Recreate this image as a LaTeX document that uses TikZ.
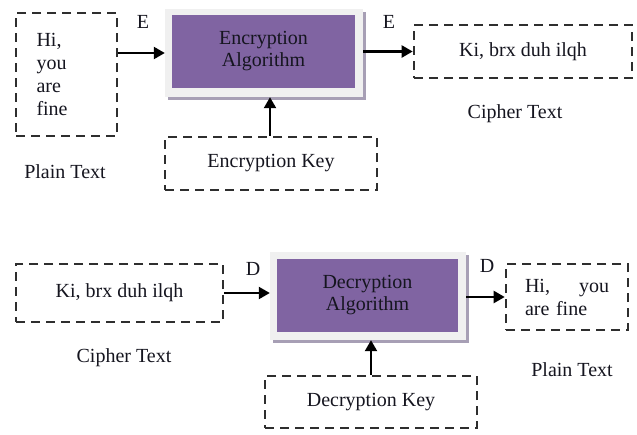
\documentclass[tikz,border=0pt]{standalone}
\usepackage{fontspec}
\setmainfont{Liberation Serif}
\usetikzlibrary{arrows.meta,shadows}
\definecolor{algpurple}{HTML}{8064A2}
\definecolor{framegray}{HTML}{F0F0F0}
\definecolor{shadowgray}{HTML}{A79FB5}
\definecolor{dashgray}{HTML}{2E2E2E}
\definecolor{inkdark}{HTML}{15151F}
\tikzset{
  txt/.style={font=\fontsize{20}{23}\selectfont, text=inkdark, inner sep=0pt},
  databox/.style={txt, draw=dashgray, line width=2.6pt, dash pattern=on 9pt off 6pt},
  algframe/.style={fill=framegray, minimum width=198pt, minimum height=88pt, inner sep=0pt,
    drop shadow={shadow xshift=3pt, shadow yshift=-3pt, fill=shadowgray, opacity=1}},
  algcore/.style={txt, fill=algpurple, minimum width=183pt, minimum height=73pt, align=center},
  flow/.style={line width=2.2pt, draw=black, -{Triangle[length=11pt,width=12pt]}},
  caption/.style={txt},
  tag/.style={txt}
}
\begin{document}
\begin{tikzpicture}[x=1pt,y=-1pt]
  \useasboundingbox (0,0) rectangle (637,434);
  \fill[white] (0,0) rectangle (637,434);

  % ---- encryption row ----
  \node[databox, minimum width=101pt, minimum height=123pt, text width=60pt, align=left]
    (plain1) at (66.5,74.5) {Hi,\\you\\are\\fine};
  \node[caption] (plaincap1) at (65,172) {Plain Text};

  \node[algframe] (enc) at (264,53) {};
  \node[algcore] (encin) at (263.5,51.5) {Encryption\\[-1pt]Algorithm};

  \node[databox, minimum width=212pt, minimum height=53pt] (enckey) at (271,163.5) {Encryption Key};

  \node[databox, minimum width=218pt, minimum height=53pt] (cipher1) at (523,51.5) {Ki, brx duh ilqh};
  \node[caption] (ciphercap1) at (515,114) {Cipher Text};

  \node[tag] (e1) at (143,22) {E};
  \node[tag] (e2) at (389,22) {E};

  \draw[flow] (plain1.east |- enc.west) -- (enc.west);
  \draw[flow] (enc.east |- cipher1.west) -- (cipher1.west);
  \draw[flow] ([xshift=-1pt]enckey.north) -- ([xshift=-1pt]enckey.north |- enc.south);

  % ---- decryption row ----
  \node[databox, minimum width=207pt, minimum height=58pt] (cipher2) at (119.5,293) {Ki, brx duh ilqh};
  \node[caption] (ciphercap2) at (124,358) {Cipher Text};

  \node[algframe, minimum width=196pt] (dec) at (368,296) {};
  \node[algcore, minimum width=181pt] (decin) at (367.5,295.5) {Decryption\\[-1pt]Algorithm};

  \node[databox, minimum width=212pt, minimum height=52pt] (deckey) at (371,402) {Decryption Key};

  \node[databox, minimum width=122pt, minimum height=66pt, text width=84pt, align=left]
    (plain2) at (567,297) {Hi,\hfill you\\are fine};
  \node[caption] (plaincap2) at (572,370) {Plain Text};

  \node[tag] (d1) at (253,269) {D};
  \node[tag] (d2) at (487,266) {D};

  \draw[flow] (cipher2.east) -- (cipher2.east -| dec.west);
  \draw[flow] (dec.east |- plain2.west) -- (plain2.west);
  \draw[flow] (deckey.north) -- (deckey.north |- dec.south);
\end{tikzpicture}
\end{document}
